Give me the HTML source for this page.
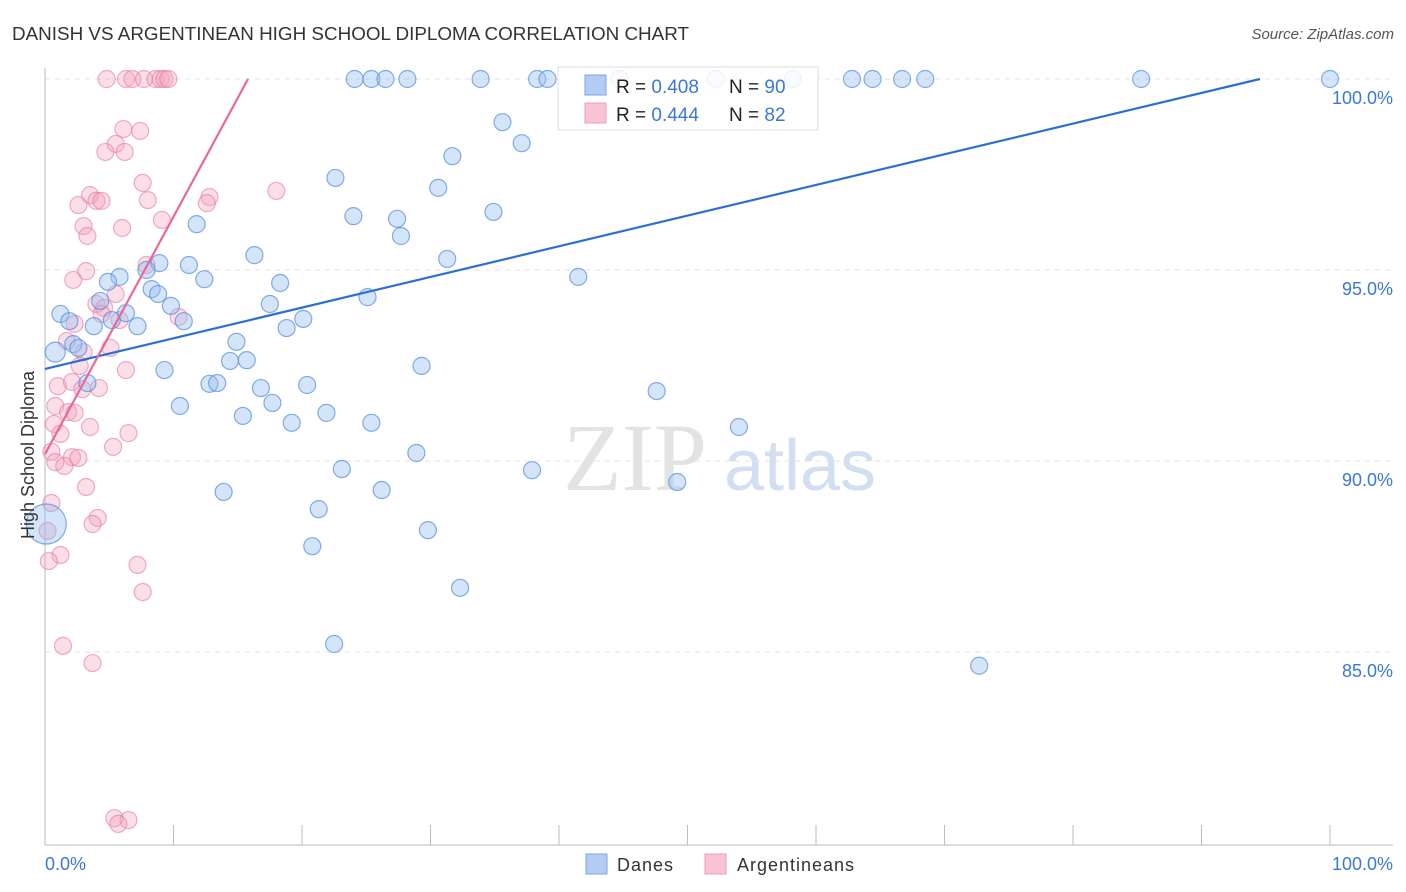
<!DOCTYPE html>
<html><head><meta charset="utf-8">
<style>
body{margin:0;background:#fff;font-family:"Liberation Sans",sans-serif;}
svg{display:block}
</style></head>
<body>
<svg id="chart" width="1406" height="892">
<text x="12" y="40" font-size="18" fill="#333" textLength="677" lengthAdjust="spacingAndGlyphs">DANISH VS ARGENTINEAN HIGH SCHOOL DIPLOMA CORRELATION CHART</text>
<text x="1394" y="39" font-size="15" fill="#555" font-style="italic" text-anchor="end">Source: ZipAtlas.com</text>
<g>
<text x="635" y="490" font-size="96" fill="#ddd" font-family="Liberation Serif,serif" text-anchor="middle" opacity="0.8">ZIP</text>
<text x="800" y="490" font-size="72" fill="#c8d8ee" text-anchor="middle" opacity="0.8">atlas</text>
</g>
<g id="grid"></g>
<g id="axes"></g>
<g id="pts"></g>
<g id="lines"></g>
<text x="34" y="455" font-size="18" fill="#333" text-anchor="middle" transform="rotate(-90 34 455)">High School Diploma</text>
<text x="45" y="870" font-size="18" fill="#3a78d8">0.0%</text>
<text x="1393" y="870" font-size="18" fill="#3a78d8" text-anchor="end">100.0%</text>
<g>
<rect x="558" y="67" width="260" height="63" fill="#fff" fill-opacity="0.85" stroke="#ddd"/>
<rect x="585" y="75" width="21" height="20" fill="#b3cdf2" stroke="#7aa4e4"/>
<rect x="585" y="103" width="21" height="20" fill="#f9c3d3" stroke="#eba0b8"/>
<text x="616" y="93" font-size="19" fill="#222">R = <tspan fill="#3a78d8">0.408</tspan><tspan x="729">N = </tspan><tspan fill="#3a78d8">90</tspan></text>
<text x="616" y="121" font-size="19" fill="#222">R = <tspan fill="#3a78d8">0.444</tspan><tspan x="729">N = </tspan><tspan fill="#3a78d8"> 82</tspan></text>
</g>
<g>
<rect x="586" y="854" width="21" height="20" fill="#b3cdf2" stroke="#7aa4e4"/>
<text x="617" y="871" font-size="18" fill="#333" textLength="56">Danes</text>
<rect x="705" y="854" width="21" height="20" fill="#f9c3d3" stroke="#eba0b8"/>
<text x="737" y="871" font-size="18" fill="#333" textLength="117">Argentineans</text>
</g>
</svg>
<script>
const yTicks=[100,95,90,85];
const yTickLabels=["100.0%","95.0%","90.0%","85.0%"];
const xTicks=[0,10,20,30,40,50,60,70,80,90,100];
const danesX=[24.1,25.4,26.5,28.2,33.9,38.3,39.1,44.7,52.2,58.2,62.8,64.4,66.7,68.5,85.3,100,35.6,37.1,31.7,22.6,30.6,34.9,24.0,27.4,27.7,11.8,16.3,31.3,41.5,8.9,11.2,7.9,5.8,12.4,4.9,18.3,8.3,8.8,25.1,4.3,9.8,17.5,1.2,6.3,1.9,5.2,10.8,20.1,3.8,7.2,18.8,14.9,2.2,2.6,0.8,14.4,15.7,29.3,9.3,3.3,12.8,13.4,16.8,20.4,47.6,17.7,10.5,21.9,15.4,19.2,25.4,54.0,28.9,23.1,37.9,49.2,26.2,13.9,21.3,29.8,0.1,20.8,32.3,22.5,72.7];
const danesY=[100,100,100,100,100,100,100,100,100,100,100,100,100,100,100,100,98.87,98.32,97.98,97.41,97.15,96.52,96.41,96.34,95.89,96.20,95.39,95.29,94.82,95.18,95.13,95.00,94.82,94.76,94.69,94.66,94.50,94.37,94.29,94.19,94.06,94.11,93.85,93.87,93.66,93.69,93.66,93.72,93.53,93.53,93.48,93.12,93.06,92.96,92.85,92.62,92.64,92.49,92.38,92.04,92.02,92.04,91.91,91.99,91.83,91.52,91.44,91.26,91.18,91.0,91.0,90.89,90.21,89.79,89.76,89.45,89.24,89.19,88.74,88.19,88.35,87.77,86.68,85.21,84.64];
const argX=[4.8,6.3,6.8,7.7,8.6,9.0,9.3,9.6,6.1,7.4,5.5,6.2,4.7,7.6,3.5,4.0,4.4,8.0,12.8,12.6,18.0,2.6,3.0,6.0,3.3,9.1,7.9,3.2,2.2,5.5,4.0,4.6,10.4,4.4,5.8,2.3,1.7,3.0,5.1,2.7,6.3,1.0,2.1,2.9,4.2,0.8,1.8,2.3,0.7,3.5,1.2,6.5,5.3,0.5,2.1,2.6,0.8,1.5,3.2,0.5,4.1,3.7,0.2,1.2,0.3,7.2,7.6,1.4,3.7,5.4,6.5,5.7];
const argY=[100,100,100,100,100,100,100,100,98.69,98.64,98.30,98.09,98.09,97.28,96.96,96.81,96.81,96.83,96.91,96.75,97.07,96.70,96.15,96.10,95.89,96.31,95.13,94.97,94.74,94.37,94.11,94.01,93.77,93.85,93.69,93.59,93.14,92.85,92.96,92.49,92.38,91.96,92.07,91.88,91.91,91.44,91.28,91.26,90.97,90.89,90.71,90.73,90.37,90.24,90.10,90.08,89.97,89.87,89.32,88.90,88.51,88.35,88.17,87.54,87.38,87.28,86.57,85.16,84.71,80.65,80.60,80.50];
const danesTrendX=[0,94.55], danesTrendY=[92.41,100];
const argTrendX=[0,15.8], argTrendY=[90.18,100];
const NS="http://www.w3.org/2000/svg";
const X=v=>45+v*12.85, Y=v=>79+(100-v)*38.2;
function mk(tag,attrs,parent){const e=document.createElementNS(NS,tag);for(const k in attrs)e.setAttribute(k,attrs[k]);document.getElementById(parent).appendChild(e);return e;}
yTicks.forEach((t,i)=>{
 const l=mk('line',{x1:45,x2:1393,y1:Y(t),y2:Y(t),stroke:'#e2e2e2','stroke-dasharray':'5,5'},'grid');
 
 
 const tx=mk('text',{x:1393,y:Y(t)+25,'font-size':18,fill:'#3a78d8','text-anchor':'end'},'grid');
 tx.textContent=yTickLabels[i];
 
 
});
const ax=mk('line',{x1:45,x2:45,y1:68,y2:845,stroke:'#bbb'},'axes');


const bx=mk('line',{x1:45,x2:1393,y1:845,y2:845,stroke:'#bbb'},'axes');


xTicks.forEach(t=>{const l=mk('line',{x1:X(t),x2:X(t),y1:825,y2:845,stroke:'#bbb'},'axes');
 
 });
argX.forEach((v,i)=>{const c=mk('circle',{cx:X(v),cy:Y(argY[i]),r:8.5,fill:'rgba(244,160,190,0.35)',stroke:'rgba(230,120,160,0.6)','stroke-width':1.2},'pts');
 
 });
danesX.forEach((v,i)=>{let r=8.5;if(v===0.1)r=20;else if(v===0.8&&danesY[i]>92.8&&danesY[i]<92.9)r=10;
 const c=mk('circle',{cx:X(v),cy:Y(danesY[i]),r:r,fill:'rgba(150,190,240,0.4)',stroke:'rgba(80,140,220,0.7)','stroke-width':1.2},'pts');
 
 });
const bl=mk('line',{x1:X(danesTrendX[0]),y1:Y(danesTrendY[0]),x2:X(danesTrendX[1]),y2:Y(danesTrendY[1]),stroke:'#2a6fd6','stroke-width':2.2},'lines');


const pl=mk('line',{x1:X(argTrendX[0]),y1:Y(argTrendY[0]),x2:X(argTrendX[1]),y2:Y(argTrendY[1]),stroke:'#e8689a','stroke-width':2.2},'lines');


</script>
</body></html>
